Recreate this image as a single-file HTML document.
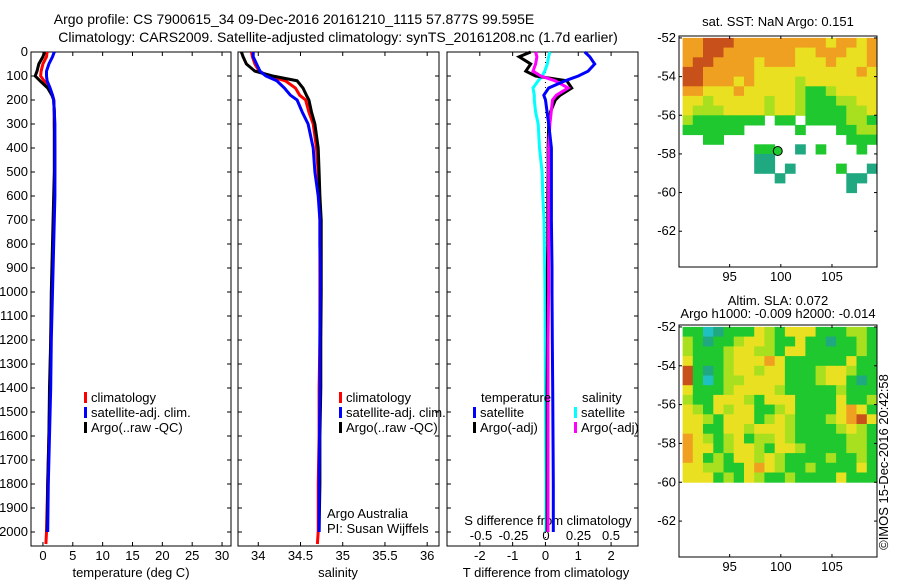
<!DOCTYPE html>
<html><head><meta charset="utf-8"><style>
body{margin:0;background:#fff;}
svg{display:block;font-family:"Liberation Sans",sans-serif;}
text{font-size:13px;fill:#000;}
</style></head><body>
<svg id="s" width="900" height="580" xmlns="http://www.w3.org/2000/svg">
<text x="294" y="24" text-anchor="middle" style="font-size:14px">Argo profile: CS 7900615_34 09-Dec-2016 20161210_1115 57.877S 99.595E</text>
<text x="338" y="42" text-anchor="middle" style="font-size:14px">Climatology: CARS2009. Satellite-adjusted climatology: synTS_20161208.nc (1.7d earlier)</text>
<text x="327" y="518">Argo Australia</text>
<text x="327" y="533">PI: Susan Wijffels</text>
<text x="778" y="26" text-anchor="middle">sat. SST: NaN Argo: 0.151</text>
<text x="778" y="305" text-anchor="middle">Altim. SLA: 0.072</text>
<text x="778" y="318" text-anchor="middle">Argo h1000: -0.009 h2000: -0.014</text>
<text transform="translate(888,462) rotate(-90)" text-anchor="middle">©IMOS 15-Dec-2016 20:42:58</text>
</svg>
<script>
const depths=[0,20,50,80,100,120,150,180,200,250,300,400,500,600,700,800,900,1000,1200,1400,1600,1800,2000,2050];
const tArgo=[0.3,0,-0.7,-1.0,-1.3,-0.5,0.8,1.5,1.8,1.9,1.9,1.9,1.9,1.8,1.7,1.6,1.5,1.4,1.3,1.1,1.0,0.8,0.7,null];
const tClim=[0.7,0.6,0.0,-0.3,-0.4,0.2,1.0,1.6,1.8,1.9,1.9,2.0,2.0,1.9,1.8,1.7,1.6,1.5,1.3,1.2,1.0,0.8,0.6,0.5];
const tSat=[1.9,1.6,1.0,0.6,0.6,0.7,1.2,1.6,1.8,1.9,2.0,2.0,2.0,2.0,1.9,1.8,1.7,1.6,1.4,1.3,1.1,0.9,0.8,null];
const sArgo=[33.80,33.82,33.86,33.96,34.17,34.46,34.53,34.57,34.60,34.63,34.67,34.71,34.72,34.73,34.745,34.745,34.745,34.745,34.74,34.74,34.73,34.73,34.72,null];
const sClim=[33.92,33.93,33.96,34.01,34.12,34.32,34.44,34.49,34.56,34.60,34.65,34.69,34.71,34.72,34.73,34.73,34.73,34.73,34.73,34.72,34.72,34.71,34.71,34.70];
const sSat=[33.94,33.94,33.98,34.02,34.09,34.22,34.31,34.38,34.46,34.52,34.59,34.65,34.67,34.71,34.73,34.73,34.735,34.735,34.73,34.73,34.725,34.72,34.72,null];
const dTsat=[1.2,1.35,1.5,1.3,1.0,0.6,0.1,-0.05,0,0.05,0.1,0.18,0.18,0.18,0.18,0.19,0.2,0.2,0.21,0.22,0.23,0.24,0.24,null];
const dTargo=[-0.45,-0.8,-0.45,-0.6,-0.3,0.65,0.8,0.45,0.3,0.15,0.1,0.08,0.08,0.07,0.07,0.07,0.06,0.06,0.06,0.05,0.05,0.05,0.05,null];
const dSsat=[0.03,0.02,0.01,-0.01,-0.03,-0.06,-0.1,-0.09,-0.09,-0.08,-0.06,-0.05,-0.03,-0.025,-0.015,-0.012,-0.01,-0.008,-0.006,-0.004,-0.002,0,0,null];
const dSargo=[-0.08,-0.07,-0.08,-0.1,-0.04,0.07,0.17,0.08,0.05,0.04,0.03,0.02,0.02,0.02,0.02,0.02,0.02,0.02,0.015,0.015,0.015,0.015,0.015,null];
const depthTicks=[0,100,200,300,400,500,600,700,800,900,1000,1100,1200,1300,1400,1500,1600,1700,1800,1900,2000];
const tTicks=[0,5,10,15,20,25,30];
const sTicks=[34,34.5,35,35.5,36];
const sTickLabels=["34","34.5","35","35.5","36"];
const dTTicks=[-2,-1,0,1,2];
const dSTicks=[-0.5,-0.25,0,0.25,0.5];
const dSTickLabels=["-0.5","-0.25","0","0.25","0.5"];
const lats=[-52,-54,-56,-58,-60,-62];
const lons=[95,100,105];
const sstGrid=[
"oorrroooooooooyooyo","oorroooooooyyoooyyo","orrooooyoooyyyoyyyo","rroooooyyyyyyyyyyoy",
"rroooyoyyyylyyyyyyy","ooyyyoyyyyylgglyyyy","yylyyyyylyylgggllyy","ylllyyyylyylgggglly",
"lggggggg.gg.ggggllg","gggggg.....g...ggll","..gg............ggg",".......gg..t.g...g.",
".......tt.........",".......tt.t....g..t",".........t......tt.","................t.."];
const slaGrid=[
"ggctgggylgyyygggllg","lgtgglyylggyggtgglg","lggglyyllgyyggggglg","yggglyyyoyggggggygg",
"rgtglyylyyggglyylgg","rgcgllyyyyggglyygtg","yggglyyyylggggglggg","lggyyylgyyyggggyggl",
"ylgylyygglyggggyoyg","yylgyyyglylggglyory","yyggyylyyylgggglylg","oylglygllylgggggllg",
"oyyglyylgyylggggllg","oyglgyylylgggglgglg","yyllggyoylgglggggyg","yyyglgylgglggggyggg"];
const argoPos=[99.7,-57.85];

const NS='http://www.w3.org/2000/svg';
const svg=document.getElementById('s');
function mk(tag,attrs,parent){const e=document.createElementNS(NS,tag);for(const k in attrs)e.setAttribute(k,attrs[k]);(parent||svg).appendChild(e);return e;}
function txt(x,y,s,anchor,name){const t=mk('text',{x:x,y:y,'text-anchor':anchor||'start'});t.textContent=s;


return t;}

const Y0=52,YTOP=0,DPX=0.24,YB=546;
const yOf=d=>Y0+(d-YTOP)*DPX;
const panels=[
 {x0:31,x1:231,min:-2,max:31.5,name:'temperature'},
 {x0:238,x1:439,min:33.76,max:36.14,name:'salinity'},
 {x0:447,x1:638,min:-3,max:2.82,name:'difference'}];
function xf(p,v){return p.x0+(v-p.min)/(p.max-p.min)*(p.x1-p.x0);}
const dSx=v=>546+v*130;

function drawLine(p,vals,color,name,fx){
 let pts=[];
 vals.forEach((v,i)=>{if(v!==null)pts.push((fx?fx(v):xf(p,v)).toFixed(1)+','+yOf(depths[i]).toFixed(1));});
 const l=mk('polyline',{points:pts.join(' '),fill:'none',stroke:color,'stroke-width':3,'stroke-linejoin':'miter'});
 
 
}
panels.forEach((p,pi)=>{
 const r=mk('rect',{x:p.x0,y:Y0,width:p.x1-p.x0,height:YB-Y0,fill:'none',stroke:'#000','stroke-width':1});
 
 
 depthTicks.forEach(d=>{const y=yOf(d);
  mk('line',{x1:p.x0,x2:p.x0+4,y1:y,y2:y,stroke:'#000'});
  mk('line',{x1:p.x1,x2:p.x1-4,y1:y,y2:y,stroke:'#000'});
  if(pi===0)txt(p.x0-3,y+4,String(d),'end','depth-tick-label');});
});
tTicks.forEach(v=>{const x=xf(panels[0],v);mk('line',{x1:x,x2:x,y1:Y0,y2:Y0+4,stroke:'#000'});mk('line',{x1:x,x2:x,y1:YB,y2:YB-4,stroke:'#000'});txt(x,560,String(v),'middle','temperature-tick-label');});
txt(131,577,'temperature (deg C)','middle','temperature-axis-title');
sTicks.forEach((v,i)=>{const x=xf(panels[1],v);mk('line',{x1:x,x2:x,y1:Y0,y2:Y0+4,stroke:'#000'});mk('line',{x1:x,x2:x,y1:YB,y2:YB-4,stroke:'#000'});txt(x,560,sTickLabels[i],'middle','salinity-tick-label');});
txt(338,577,'salinity','middle','salinity-axis-title');
dTTicks.forEach(v=>{const x=xf(panels[2],v);mk('line',{x1:x,x2:x,y1:Y0,y2:Y0+4,stroke:'#000'});mk('line',{x1:x,x2:x,y1:YB,y2:YB-4,stroke:'#000'});txt(x,560,String(v),'middle','t-diff-tick-label');});
dSTicks.forEach((v,i)=>{txt(dSx(v),540,dSTickLabels[i],'middle','s-diff-tick-label');});
txt(548,525,'S difference from climatology','middle','s-diff-axis-title');
txt(546,577,'T difference from climatology','middle','t-diff-axis-title');
const zl=mk('line',{x1:xf(panels[2],0),x2:xf(panels[2],0),y1:Y0,y2:YB,stroke:'#000','stroke-dasharray':'1,4'});



drawLine(panels[0],tClim,'#f00','temperature-climatology-line');
drawLine(panels[0],tArgo,'#000','temperature-argo-line');
drawLine(panels[0],tSat,'#00f','temperature-satellite-line');
drawLine(panels[1],sClim,'#f00','salinity-climatology-line');
drawLine(panels[1],sArgo,'#000','salinity-argo-line');
drawLine(panels[1],sSat,'#00f','salinity-satellite-line');
drawLine(panels[2],dSsat,'#0ff','s-diff-satellite-line',dSx);
drawLine(panels[2],dTargo,'#000','t-diff-argo-line');
drawLine(panels[2],dSargo,'#f0f','s-diff-argo-line',dSx);
drawLine(panels[2],dTsat,'#00f','t-diff-satellite-line');

function legend(x,y,color,label,name){const b=mk('rect',{x:x,y:y-6,width:3,height:11,fill:color});
 
 
 txt(x+7,y+4,label,'start',name+'-label');}
[[84,'climatology','#f00'],[84,'satellite-adj. clim.','#00f'],[84,'Argo(..raw -QC)','#000']].forEach((l,i)=>legend(l[0],398+i*15,l[2],l[1],'temp-legend-entry'));
[[339,'climatology','#f00'],[339,'satellite-adj. clim.','#00f'],[339,'Argo(..raw -QC)','#000']].forEach((l,i)=>legend(l[0],398+i*15,l[2],l[1],'sal-legend-entry'));
txt(481,402,'temperature','start','legend-temperature-heading');
txt(582,402,'salinity','start','legend-salinity-heading');
legend(473,413,'#00f','satellite','legend-t-satellite');
legend(473,428,'#000','Argo(-adj)','legend-t-argo');
legend(574,413,'#0ff','satellite','legend-s-satellite');
legend(574,428,'#f0f','Argo(-adj)','legend-s-argo');

const colors={r:'#c8501a',o:'#f0a020',y:'#e8e020',l:'#a8e020',g:'#20c830',t:'#20a880',c:'#20c0c0'};
function map(top,bottom,grid,name){
 const x0=679,x1=877,lonMin=90.05,lonMax=109.4,latTop=-51.9,latBot=-63.85;
 const lx=v=>x0+(v-lonMin)/(lonMax-lonMin)*(x1-x0);
 const ly=v=>top+(latTop-v)/(latTop-latBot)*(bottom-top);
 grid.forEach((row,ri)=>{for(let ci=0;ci<row.length;ci++){const c=row[ci];if(!colors[c])continue;
  const xa=lx(90.4+ci),xb=lx(91.4+ci),ya=ly(-52-ri*0.5),yb=ly(-52.5-ri*0.5);
  const cell=mk('rect',{x:Math.max(x0,xa).toFixed(1),y:Math.max(top,ya).toFixed(1),width:(Math.min(x1,xb)-Math.max(x0,xa)+0.5).toFixed(1),height:(yb-Math.max(top,ya)+0.5).toFixed(1),fill:colors[c]});
  
  }});
 const f=mk('rect',{x:x0,y:top,width:x1-x0,height:bottom-top,fill:'none',stroke:'#000'});
 
 
 lats.forEach(v=>{const y=ly(v);mk('line',{x1:x0,x2:x0+3,y1:y,y2:y,stroke:'#000'});mk('line',{x1:x1,x2:x1-3,y1:y,y2:y,stroke:'#000'});txt(x0-3,y+4,String(v),'end',name+'-lat-label');});
 lons.forEach(v=>{const x=lx(v);mk('line',{x1:x,x2:x,y1:top,y2:top+3,stroke:'#000'});mk('line',{x1:x,x2:x,y1:bottom,y2:bottom-3,stroke:'#000'});txt(x,bottom+14,String(v),'middle',name+'-lon-label');});
 return [lx,ly];
}
const m1=map(36,267,sstGrid,'sst-map');
map(325,557,slaGrid,'sla-map');
const dot=mk('circle',{cx:m1[0](argoPos[0]),cy:m1[1](argoPos[1]),r:4.5,fill:'#20c830',stroke:'#000','stroke-width':1});


</script>
</body></html>
